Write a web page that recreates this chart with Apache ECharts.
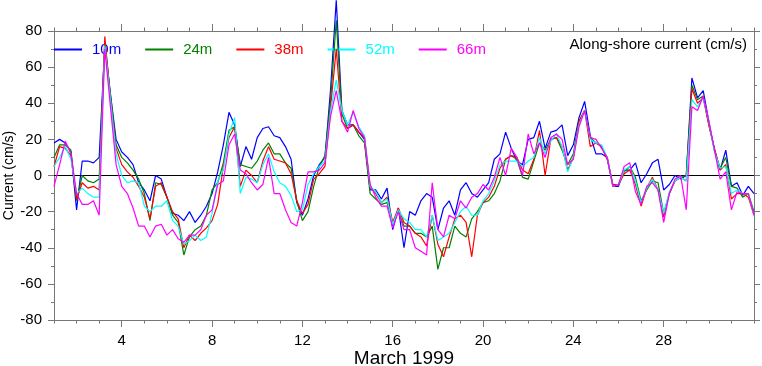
<!DOCTYPE html>
<html><head><meta charset="utf-8">
<script src="https://cdn.jsdelivr.net/npm/echarts@6/dist/echarts.min.js"></script>
<style>html,body{margin:0;padding:0;background:#fff}#c{width:762px;height:366px}</style>
</head><body><div id="c"></div>
<script>
// Time axis: March 1999, day 1 to day 32, samples every 6 hours
const dayStart = 1, dayStep = 0.25;
const majorDays = [4, 8, 12, 16, 20, 24, 28];
const seriesNames = ['10m', '24m', '38m', '52m', '66m'];
const seriesColors = ['#0000ff', '#008200', '#ff0000', '#00ffff', '#ff00ff'];

const s10 = [18,20,18,13,-19,8,8,7,10,72,45,20,13,10,6,-4,-8,-14,0,-2,-12,-21,-22,-25,-20,
 -26,-22,-17,-10,2,17,35,28,5,16,9,21,26,27,22,21,16,9,-15,-22,-13,0,6,10,48,97,
 36,28,28,24,20,-8,-8,-13,-7,-30,-18,-40,-20,-22,-14,-10,-12,-30,-18,-14,-22,-8,-4,-10,-12,
 -8,-4,9,12,24,15,8,6,20,21,30,15,24,25,28,11,17,32,41,22,12,12,10,-6,
 -6,3,3,7,-4,1,7,9,-8,-5,0,-2,0,54,43,47,30,14,3,14,-6,-4,-11,-6,-10];
const s24 = [10,17,17,14,-14,0,-3,-4,-2,74,45,17,10,7,3,-2,-10,-25,-4,-5,-12,-22,-26,-44,-34,
 -30,-28,-22,-8,-4,7,25,27,6,5,4,8,14,18,12,12,7,4,-14,-25,-20,-6,5,11,42,86,
 34,26,28,22,18,-10,-13,-16,-15,-26,-20,-28,-28,-32,-32,-34,-28,-52,-40,-40,-28,-32,-34,-24,-20,
 -15,-14,-10,-3,9,11,9,-1,-2,8,18,14,20,21,14,6,12,30,36,21,18,16,9,-5,
 -5,2,5,-1,-14,-8,-3,-4,-21,-10,-3,-1,0,50,42,44,28,14,4,10,-6,-7,-12,-10,-20];
const s38 = [5,16,15,11,-13,-4,-7,-6,-8,77,42,15,6,2,-1,-6,-12,-24,-6,-4,-12,-20,-24,-40,-33,
 -36,-32,-29,-25,-16,5,21,27,-6,3,0,-4,8,16,9,8,7,1,-14,-21,-16,-2,1,5,38,70,
 30,26,28,24,21,-6,-10,-15,-12,-26,-18,-26,-28,-32,-34,-39,-22,-38,-45,-34,-24,-22,-26,-45,-22,
 -15,-12,-6,4,9,11,10,3,1,9,25,0,20,21,16,3,10,30,36,16,18,16,9,-5,
 -5,1,3,-5,-17,-7,-1,-8,-23,-10,-3,-1,-3,48,40,43,28,15,3,6,-13,-10,-10,-12,-22];
const s52 = [5,10,16,9,-10,-7,-10,-12,-12,72,42,12,0,-4,-3,-4,-17,-20,-17,-17,-14,-25,-28,-38,-36,
 -33,-36,-34,-21,-3,3,23,32,-10,-1,-2,-4,6,12,2,-4,-6,-11,-20,-19,-5,1,5,8,36,53,
 36,28,35,27,22,-6,-9,-15,-13,-27,-19,-24,-26,-30,-30,-34,-22,-36,-34,-32,-26,-20,-17,-22,-22,
 -14,-10,-3,6,8,8,8,5,8,10,21,12,19,23,16,2,10,28,36,20,18,17,10,-6,
 -5,3,5,-3,-15,-7,-2,-8,-21,-9,-3,-1,-3,42,38,43,30,13,4,5,-10,-8,-10,-10,-22];
const s66 = [-6,6,19,12,-10,-16,-16,-14,-22,70,38,6,-6,-10,-18,-28,-28,-34,-28,-27,-33,-30,-35,-37,-33,
 -33,-30,-22,-19,-5,-3,17,23,3,1,-4,-8,-5,10,-10,-10,-19,-26,-28,-15,2,2,3,7,33,47,
 30,24,36,26,21,-5,-12,-17,-17,-29,-20,-30,-30,-40,-42,-44,-4,-30,-34,-22,-24,-14,-18,-12,-10,
 -5,-8,-1,10,0,15,10,0,23,12,18,10,21,23,20,6,9,27,36,21,20,15,10,-6,
 -5,5,7,-9,-16,-6,-4,-8,-26,-10,-2,0,-19,38,36,44,30,14,-2,2,-19,-9,-10,-10,-22];
const allSeries = [s10, s24, s38, s52, s66];

const FONT = '"Liberation Sans", Arial, Helvetica, sans-serif';
const AX = '#777';
const chart = echarts.init(document.getElementById('c'), null, {renderer: 'canvas'});

function xAx(pos, major, withLabel) {
  const a = {
    type: 'value', min: 1, max: 32, position: pos, gridIndex: 0,
    splitLine: {show: false},
    axisLine: {show: major, onZero: false, lineStyle: {color: AX, width: 1}},
    axisTick: {show: true, inside: false, length: major ? 7 : 3.5, lineStyle: {color: AX, width: 1}},
    axisLabel: {show: false}
  };
  if (major) {
    a.axisTick.customValues = majorDays;
    if (withLabel) {
      a.axisLabel = {show: true, customValues: majorDays, fontSize: 15, color: '#000', fontFamily: FONT, margin: 13};
      a.name = 'March 1999';
      a.nameLocation = 'middle';
      a.nameGap = 29;
      a.nameMoveOverlap = false;
      a.nameTextStyle = {fontSize: 19, color: '#000', fontFamily: FONT, verticalAlign: 'top'};
    }
  } else {
    a.interval = 1;
  }
  return a;
}
function yAx(pos, withLabel) {
  const a = {
    type: 'value', min: -80, max: 80, interval: 20, position: pos,
    splitLine: {show: false},
    axisLine: {show: true, onZero: false, lineStyle: {color: AX, width: 1}},
    axisTick: {show: true, inside: false, length: 6, lineStyle: {color: AX}},
    minorTick: {show: true, splitNumber: 2, length: 3, lineStyle: {color: AX}},
    axisLabel: {show: withLabel, fontSize: 15, color: '#000', fontFamily: FONT, margin: 12}
  };
  if (withLabel) {
    a.name = 'Current (cm/s)';
    a.nameLocation = 'middle';
    a.nameGap = 38;
    a.nameMoveOverlap = false;
    a.nameTextStyle = {fontSize: 14, color: '#000', fontFamily: FONT};
  }
  return a;
}

const series = seriesNames.map((n, k) => ({
  name: n, type: 'line', xAxisIndex: 0, yAxisIndex: 0,
  data: allSeries[k].map((v, i) => [dayStart + i * dayStep, v]),
  showSymbol: false, symbol: 'none', clip: false, z: 3 + k,
  lineStyle: {color: seriesColors[k], width: 1.2},
  itemStyle: {color: seriesColors[k]},
  animation: false
}));
series[0].markLine = {
  silent: true, symbol: 'none', label: {show: false},
  lineStyle: {color: '#000', width: 1, type: 'solid'},
  data: [{yAxis: 0}], animation: false, z: 2
};

chart.setOption({
  animation: false,
  backgroundColor: '#fff',
  grid: {left: 54, right: 8, top: 31, bottom: 46, containLabel: false, outerBoundsMode: 'none'},
  title: {text: 'Along-shore current (cm/s)', right: 15, top: 37, padding: 0,
    textStyle: {fontSize: 15, fontWeight: 'normal', color: '#000', fontFamily: FONT}},
  legend: {
    left: 54, top: 42, padding: 0, itemWidth: 28, itemHeight: 2, itemGap: 24, icon: 'rect',
    textStyle: {fontSize: 15, fontFamily: FONT, padding: [0, 0, 0, 5]},
    data: seriesNames.map((n, k) => ({name: n, textStyle: {color: seriesColors[k]}}))
  },
  xAxis: [xAx('bottom', true, true), xAx('bottom', false, false), xAx('top', true, false), xAx('top', false, false)],
  yAxis: [yAx('left', true), yAx('right', false)],
  series: series
});
</script></body></html>
